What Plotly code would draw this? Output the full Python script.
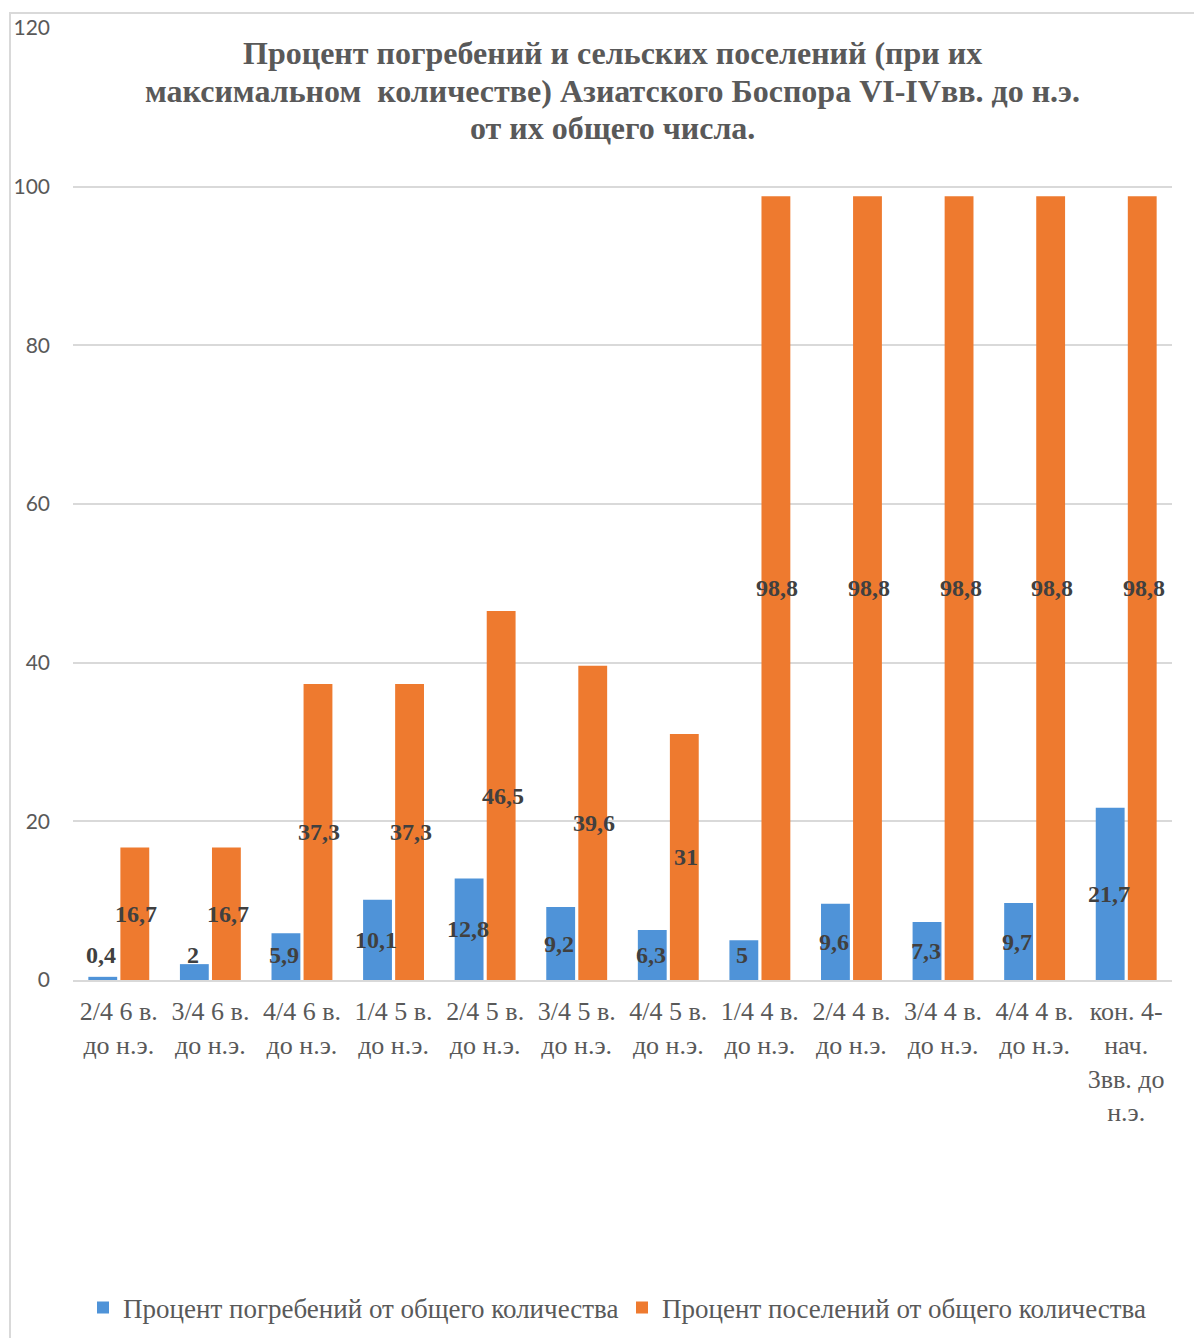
import plotly.graph_objects as go

categories = [
    "2/4 6 в.<br>до н.э.", "3/4 6 в.<br>до н.э.", "4/4 6 в.<br>до н.э.",
    "1/4 5 в.<br>до н.э.", "2/4 5 в.<br>до н.э.", "3/4 5 в.<br>до н.э.",
    "4/4 5 в.<br>до н.э.", "1/4 4 в.<br>до н.э.", "2/4 4 в.<br>до н.э.",
    "3/4 4 в.<br>до н.э.", "4/4 4 в.<br>до н.э.", "кон. 4-<br>нач.<br>3вв. до<br>н.э.",
]
burials = [0.4, 2, 5.9, 10.1, 12.8, 9.2, 6.3, 5, 9.6, 7.3, 9.7, 21.7]
settlements = [16.7, 16.7, 37.3, 37.3, 46.5, 39.6, 31, 98.8, 98.8, 98.8, 98.8, 98.8]
series_names = ["Процент погребений от общего количества",
                "Процент поселений от общего количества"]
title_lines = ["Процент погребений и сельских поселений (при их",
               "максимальном  количестве) Азиатского Боспора VI-IVвв. до н.э.",
               "от их общего числа."]

BLUE = "#4f93d8"
ORANGE = "#ee7a2f"
GRAY = "#595959"
SERIF = "Liberation Serif, Times New Roman, serif"

fig = go.Figure()
fig.add_trace(go.Bar(x=categories, y=burials, name=series_names[0],
                     marker=dict(color=BLUE, line=dict(width=0))))
fig.add_trace(go.Bar(x=categories, y=settlements, name=series_names[1],
                     marker=dict(color=ORANGE, line=dict(width=0))))

def fmt(v):
    return ("%g" % v).replace(".", ",")

# page offset (body margin of the html page)
OFF = 8
W, H = 1202 - OFF, 1338 - OFF
L, R, T, B = 73 - OFF, 30, 28 - OFF, 358
pw, ph = W - L - R, H - T - B

def px2paper_x(px):
    return (px - OFF - L) / pw

def px2paper_y(py):
    return (H - B - (py - OFF)) / ph

annotations = []
for cat, v in zip(categories, burials):
    annotations.append(dict(x=cat, y=max(v / 2, 3.1), xref="x", yref="y",
                            text=fmt(v), showarrow=False, xshift=-17.5,
                            font=dict(family=SERIF, size=24, color="#404040", weight="bold")))
for cat, v in zip(categories, settlements):
    annotations.append(dict(x=cat, y=max(v / 2, 3.1), xref="x", yref="y",
                            text=fmt(v), showarrow=False, xshift=17.5,
                            font=dict(family=SERIF, size=24, color="#404040", weight="bold")))

for line, ypx in zip(title_lines, [53, 91, 128]):
    annotations.append(dict(x=px2paper_x(612), y=px2paper_y(ypx), xref="paper", yref="paper",
                            xanchor="center", yanchor="middle", text=line, showarrow=False,
                            font=dict(family=SERIF, size=32, color=GRAY, weight="bold")))

fig.update_layout(
    width=W, height=H,
    margin=dict(l=L, r=R, t=T, b=B, autoexpand=False),
    paper_bgcolor="white", plot_bgcolor="white",
    barmode="group", bargap=0.30, bargroupgap=0.10,
    xaxis=dict(showgrid=False, showline=True, linecolor="#d9d9d9", linewidth=1.5,
               tickfont=dict(family=SERIF, size=26, color=GRAY),
               ticks="", ticklabelstandoff=7, automargin=False),
    yaxis=dict(range=[0, 120], dtick=20, showgrid=True, gridcolor="#d9d9d9",
               gridwidth=1.5, zeroline=False, showline=False,
               tickfont=dict(family="Lato, Liberation Sans, sans-serif", size=21, color=GRAY),
               ticklabelstandoff=22, automargin=False),
    showlegend=True,
    legend=dict(orientation="h", x=px2paper_x(83), xanchor="left",
                y=px2paper_y(1308), yanchor="middle",
                font=dict(family=SERIF, size=27, color=GRAY),
                itemwidth=30, traceorder="normal",
                entrywidth=494, entrywidthmode="pixels"),
    annotations=annotations,
    shapes=[dict(type="rect", xref="paper", yref="paper",
                 x0=px2paper_x(10), x1=px2paper_x(1215),
                 y0=px2paper_y(1350), y1=px2paper_y(13),
                 line=dict(color="#d9d9d9", width=2), fillcolor="rgba(0,0,0,0)",
                 layer="below")],
)

fig.write_html("out.html")
